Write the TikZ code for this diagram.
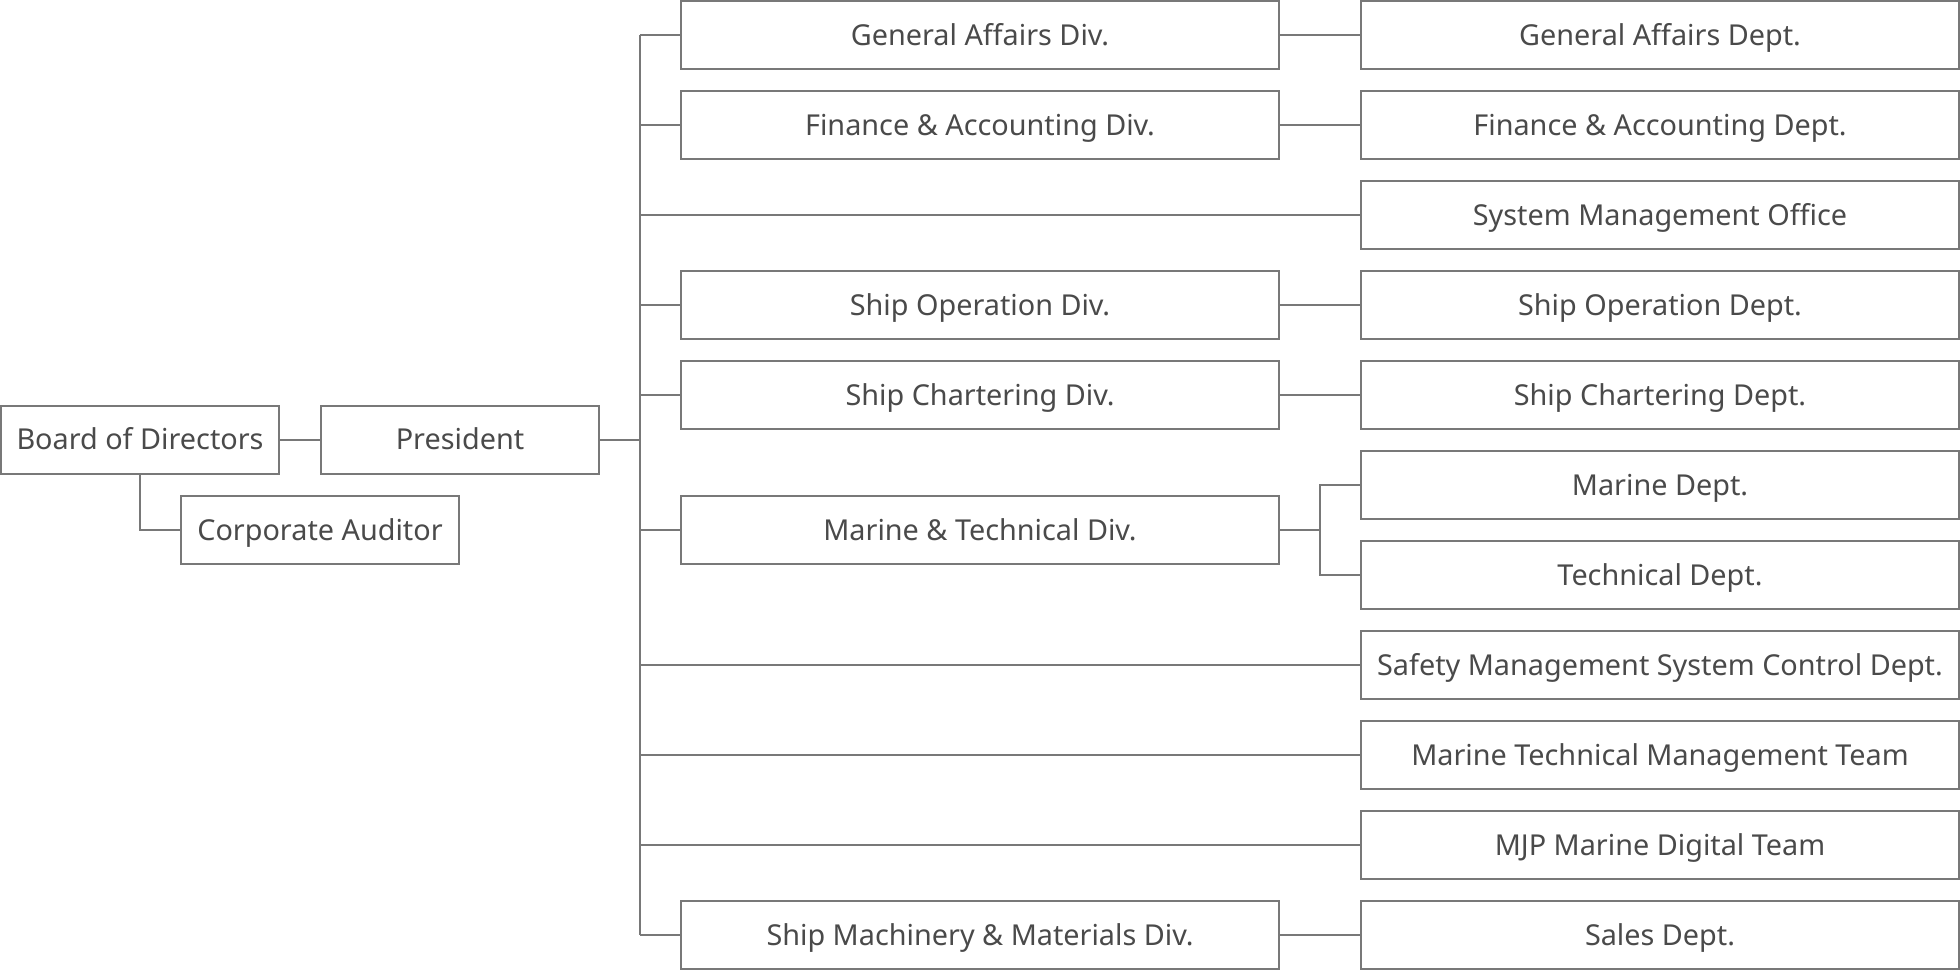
\documentclass[tikz,border=0pt]{standalone}
\usepackage{fontspec}
\setmainfont{Noto Sans}
\usepackage{tikz}

\definecolor{linegray}{HTML}{787878}
\definecolor{textgray}{HTML}{4A4A4A}

\begin{document}
\begin{tikzpicture}[x=0.5pt, y=-0.5pt,
    box/.style={draw=linegray, line width=1pt, fill=white, inner sep=0pt,
        minimum width=299pt, minimum height=34pt, text=textgray,
        text height=10.3pt, text depth=0pt,
        font=\fontsize{14.4}{17}\selectfont},
    topbox/.style={box, minimum width=139pt},
    link/.style={draw=linegray, line width=1pt}]
    % параметры
    \def\DX{980}    % центр столбца отделов (Div.)
    \def\PX{1660}   % центр столбца департаментов (Dept.)
    \def\P{90}      % шаг строк

    % рамка картинки
    \useasboundingbox (0,0) rectangle (1960,970);

    % руководство
    \node[topbox] (board) at (140,439.5) {Board of Directors};
    \node[topbox] (president) at (460,439.5) {President};
    \node[topbox] (auditor) at (320,530) {Corporate Auditor};

    % отделы
    \foreach \i/\n/\t in {0/gadiv/General Affairs Div.,
                          1/fadiv/Finance \& Accounting Div.,
                          3/sodiv/Ship Operation Div.,
                          4/scdiv/Ship Chartering Div.,
                          5.5/mtdiv/Marine \& Technical Div.,
                          10/smdiv/Ship Machinery \& Materials Div.}
        \node[box] (\n) at (\DX,{\P*\i+35}) {\t};

    % департаменты
    \foreach \i/\n/\t in {0/gadept/General Affairs Dept.,
                          1/fadept/Finance \& Accounting Dept.,
                          2/smo/System Management Office,
                          3/sodept/Ship Operation Dept.,
                          4/scdept/Ship Chartering Dept.,
                          5/marine/Marine Dept.,
                          6/tech/Technical Dept.,
                          7/safety/Safety Management System Control Dept.,
                          8/mtmt/Marine Technical Management Team,
                          9/mjp/MJP Marine Digital Team,
                          10/sales/Sales Dept.}
        \node[box] (\n) at (\PX,{\P*\i+35}) {\t};

    % связи
    \coordinate (hub) at (640,439.5);
    \draw[link] (board) -- (president);
    \draw[link] (board.south) |- (auditor.west);
    \draw[link] (president.east) -- (hub);
    \draw[link] (gadiv.west -| hub) -- (smdiv.west -| hub);
    \foreach \n in {gadiv,fadiv,sodiv,scdiv,mtdiv,smdiv}
        \draw[link] (hub |- \n.west) -- (\n.west);
    \foreach \n in {smo,safety,mtmt,mjp}
        \draw[link] (hub |- \n.west) -- (\n.west);
    \foreach \a/\b in {gadiv/gadept,fadiv/fadept,sodiv/sodept,scdiv/scdept,smdiv/sales}
        \draw[link] (\a.east) -- (\b.west);

    % развилка Marine & Technical
    \path (mtdiv.east) ++(40,0) coordinate (split);
    \draw[link] (mtdiv.east) -- (split);
    \draw[link] (marine.west) -| (split) |- (tech.west);
\end{tikzpicture}
\end{document}
